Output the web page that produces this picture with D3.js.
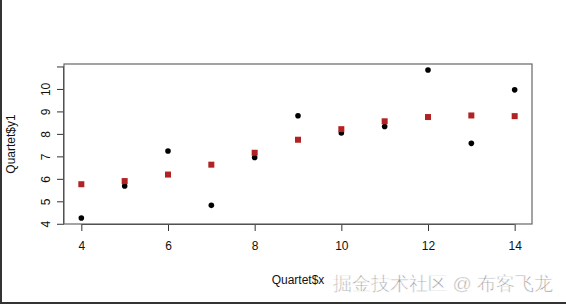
<!DOCTYPE html>
<html>
<head>
<meta charset="utf-8">
<script src="https://cdn.jsdelivr.net/npm/d3@7"></script>
<style>
  body { margin: 0; background: #fff; }
  svg text { font-family: "Liberation Sans", Arial, sans-serif; }
</style>
</head>
<body>
<div id="chart"></div>
<script>
// Anscombe quartet, set 1
const xs = [10, 8, 13, 9, 11, 14, 6, 4, 12, 7, 5];
const y1 = [8.04, 6.95, 7.58, 8.81, 8.33, 9.96, 7.24, 4.26, 10.84, 4.82, 5.68];
// fitted values (red squares)
const fitX = [4, 5, 6, 7, 8, 9, 10, 11, 12, 13, 14];
const fitY = [5.76, 5.9, 6.19, 6.63, 7.16, 7.74, 8.21, 8.56, 8.75, 8.82, 8.79];
const xTicks = [4, 6, 8, 10, 12, 14];
const yTicks = [4, 5, 6, 7, 8, 9, 10, 11];
const yLabels = [4, 5, 6, 7, 8, 9, 10];

const width = 566, height = 304;
const box = { left: 64, right: 532, top: 64, bottom: 224 };

const svg = d3.select('#chart').append('svg')
    .attr('width', width)
    .attr('height', height);

// frame of the screenshot (left + bottom edge)
svg.append('rect').attr('x', 0).attr('y', 0).attr('width', 2).attr('height', height).attr('fill', '#333');
svg.append('rect').attr('x', 0).attr('y', height - 2).attr('width', width).attr('height', 2).attr('fill', '#333');

const x = d3.scaleLinear().domain([3.6, 14.4]).range([box.left, box.right]);
const y = d3.scaleLinear().domain([3.99, 11.11]).range([box.bottom, box.top]);

// x axis
const xAxis = svg.append('g')
    .attr('transform', `translate(0,${box.bottom})`)
    .call(d3.axisBottom(x).tickValues(xTicks).tickSize(7).tickSizeOuter(0).tickPadding(10));
xAxis.select('.domain').attr('stroke', '#333');
xAxis.selectAll('.tick line').attr('stroke', '#333');
xAxis.selectAll('.tick text').attr('font-size', 12).attr('fill', '#111')
    .attr('font-family', '"Liberation Sans", Arial, sans-serif');
xAxis.select('.domain').attr('d', `M${x(4)},0.5H${x(14)}`);

// y axis
const yAxis = svg.append('g')
    .attr('transform', `translate(${box.left},0)`)
    .call(d3.axisLeft(y).tickValues(yTicks).tickSize(7).tickSizeOuter(0)
        .tickFormat(d => yLabels.includes(d) ? d : ''));
yAxis.select('.domain').attr('d', `M-0.5,${y(4)}V${y(11)}`).attr('stroke', '#333');
yAxis.selectAll('.tick line').attr('stroke', '#333');
yAxis.selectAll('.tick text')
    .attr('font-size', 12).attr('fill', '#111')
    .attr('font-family', '"Liberation Sans", Arial, sans-serif')
    .attr('text-anchor', 'middle')
    .attr('dy', null)
    .attr('x', null)
    .attr('transform', 'translate(-18,0) rotate(-90)')
    .attr('y', 4);

// plot box
svg.append('rect')
    .attr('x', box.left).attr('y', box.top)
    .attr('width', box.right - box.left).attr('height', box.bottom - box.top)
    .attr('fill', 'none').attr('stroke', '#666').attr('stroke-width', 1.2);

// data points
svg.append('g').selectAll('circle')
    .data(xs.map((d, i) => [d, y1[i]]))
    .join('circle')
    .attr('cx', d => x(d[0]))
    .attr('cy', d => y(d[1]))
    .attr('r', 2.8)
    .attr('fill', '#000');

// fitted values
svg.append('g').selectAll('rect')
    .data(fitX.map((d, i) => [d, fitY[i]]))
    .join('rect')
    .attr('x', d => x(d[0]) - 3)
    .attr('y', d => y(d[1]) - 3)
    .attr('width', 6).attr('height', 6)
    .attr('fill', '#b22222');

// axis titles
svg.append('text')
    .attr('x', (box.left + box.right) / 2).attr('y', 284)
    .attr('text-anchor', 'middle').attr('font-size', 12).attr('fill', '#111')
    .text('Quartet$x');

svg.append('text')
    .attr('transform', `translate(15,${(box.top + box.bottom) / 2}) rotate(-90)`)
    .attr('text-anchor', 'middle').attr('font-size', 12).attr('fill', '#111')
    .text('Quartet$y1');

// watermark
svg.append('text')
    .attr('x', 553).attr('y', 290)
    .attr('text-anchor', 'end')
    .attr('font-family', '"Noto Sans CJK SC", sans-serif')
    .attr('font-size', 19)
    .attr('fill', '#9a9a9a')
    .attr('stroke', '#fff').attr('stroke-width', 0.6)
    .text('掘金技术社区 @ 布客飞龙');
</script>
</body>
</html>
